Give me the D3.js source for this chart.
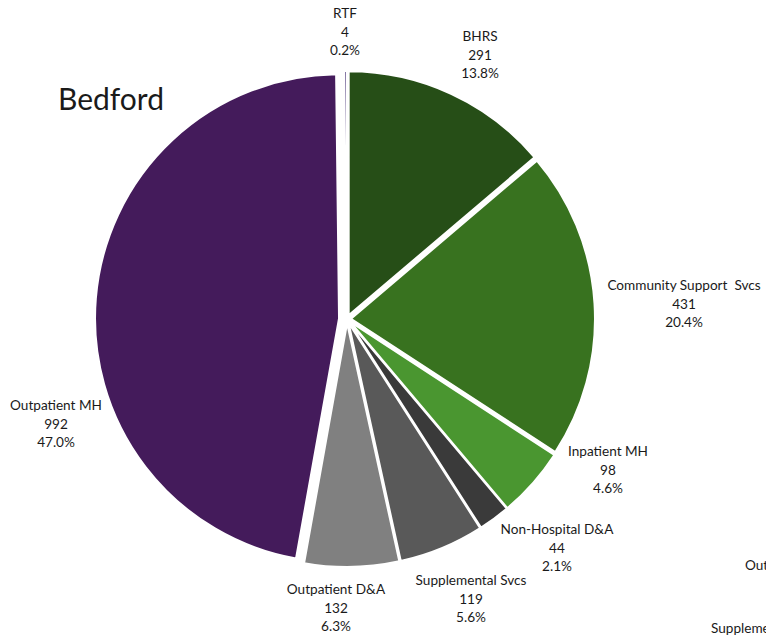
<!DOCTYPE html>
<html>
<head>
<meta charset="utf-8">
<script src="https://cdn.jsdelivr.net/npm/d3@7"></script>
<style>
  html, body { margin: 0; padding: 0; background: #fff; overflow: hidden; }
  svg { display: block; }
  text { font-family: Lato, "Open Sans", sans-serif; fill: #1a1a1a; }
</style>
</head>
<body>
<svg id="chart" width="766" height="639"></svg>
<script>
// Service categories, clockwise from 12 o'clock
const categories = [
  "BHRS",
  "Community Support  Svcs",
  "Inpatient MH",
  "Non-Hospital D&A",
  "Supplemental Svcs",
  "Outpatient D&A",
  "Outpatient MH",
  "RTF"
];
const values = [291, 431, 98, 44, 119, 132, 992, 4];
const colors = ["#264e17", "#38721f", "#4a9630", "#3a3a3a", "#595959", "#808080", "#441b5b", "#76679a"];
const title = "Bedford";

// Layout: pie geometry, per-slice explode distance and label anchors
const cx = 347, cy = 319, R = 244;
const explode = [4, 4, 4, 4, 4, 4, 8, 4];
const labelAt = {
  "BHRS": [480, 55],
  "Community Support  Svcs": [684, 304],
  "Inpatient MH": [608, 470],
  "Non-Hospital D&A": [557, 548],
  "Supplemental Svcs": [471, 599],
  "Outpatient D&A": [336, 608],
  "Outpatient MH": [56, 424],
  "RTF": [345, 32]
};

const total = d3.sum(values);
const fmtPct = d3.format(".1%");
const data = categories.map((c, i) => ({ cat: c, value: values[i], color: colors[i], ex: explode[i] }));

const svg = d3.select("#chart");

const pie = d3.pie().value(d => d.value).sort(null).startAngle(0).endAngle(2 * Math.PI);
const arc = d3.arc().innerRadius(0).outerRadius(R);
const arcs = pie(data);

const g = svg.append("g").attr("transform", `translate(${cx},${cy})`);

g.selectAll("path.slice")
  .data(arcs)
  .join("path")
  .attr("class", "slice")
  .attr("d", arc)
  .attr("fill", d => d.data.color)
  .attr("stroke", "#fff")
  .attr("stroke-width", 2)
  .attr("stroke-linejoin", "miter")
  .attr("transform", d => {
    const a = (d.startAngle + d.endAngle) / 2;
    return `translate(${Math.sin(a) * d.data.ex},${-Math.cos(a) * d.data.ex})`;
  });

// Data labels: name, value, percentage
const lineH = 18.5;
const labels = svg.selectAll("text.lbl")
  .data(arcs)
  .join("text")
  .attr("class", "lbl")
  .attr("text-anchor", "middle")
  .attr("font-size", 13.6)
  .attr("transform", d => `translate(${labelAt[d.data.cat][0]},${labelAt[d.data.cat][1]})`);

labels.each(function(d) {
  const t = d3.select(this);
  const lines = [d.data.cat, String(d.data.value), fmtPct(d.data.value / total)];
  lines.forEach((s, i) => {
    t.append("tspan")
      .attr("x", 0)
      .attr("y", (i - 1) * lineH)
      .attr("dy", "0.35em")
      .style("white-space", "pre")
      .text(s);
  });
});

svg.append("text")
  .attr("x", 58)
  .attr("y", 110)
  .attr("font-size", 30)
  .text(title);

// Labels of the neighbouring chart, cut off at the right edge
svg.append("text").attr("x", 745).attr("y", 570).attr("font-size", 13.6).text("Outpatient MH");
svg.append("text").attr("x", 711).attr("y", 633).attr("font-size", 13.6).text("Supplemental Svcs");
</script>
</body>
</html>
